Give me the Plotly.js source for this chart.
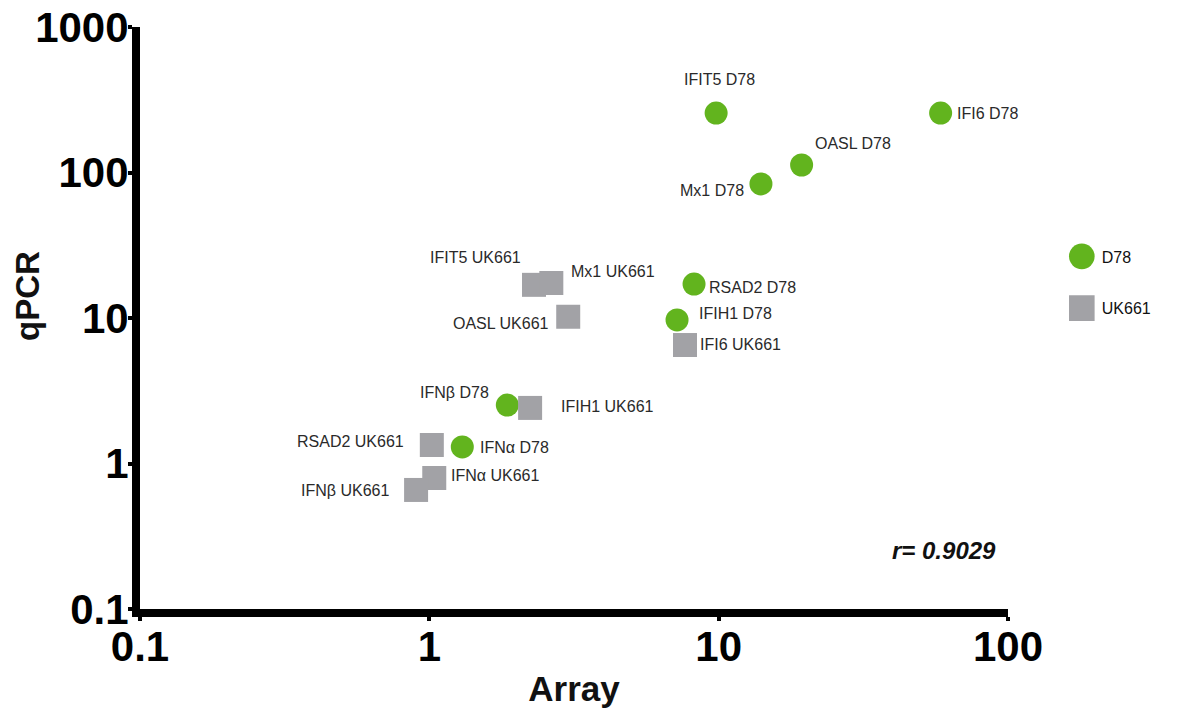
<!DOCTYPE html>
<html>
<head>
<meta charset="utf-8">
<script src="https://cdn.plot.ly/plotly-3.0.1.min.js"></script>
<style>
  html, body { margin: 0; padding: 0; background: #ffffff; }
  #chart { width: 1177px; height: 720px; }
</style>
</head>
<body>
<div id="chart"></div>
<script>
// Fold change of interferon-related genes: microarray vs qPCR
const d78Genes  = ["IFIT5", "IFI6", "OASL", "Mx1", "RSAD2", "IFIH1", "IFNβ", "IFNα"];
const d78Array  = [9.8, 58.5, 19.35, 14.0, 8.22, 7.18, 1.86, 1.30];
const d78Qpcr   = [256, 256, 112.6, 83.4, 17.1, 9.7, 2.52, 1.30];

const ukGenes   = ["IFIT5", "Mx1", "OASL", "IFI6", "IFIH1", "RSAD2", "IFNα", "IFNβ"];
const ukArray   = [2.30, 2.64, 3.02, 7.65, 2.23, 1.02, 1.04, 0.90];
const ukQpcr    = [16.9, 17.4, 10.2, 6.52, 2.41, 1.34, 0.795, 0.658];

const seriesNames = ["D78", "UK661"];
const tickVals  = [0.1, 1, 10, 100];
const yTickVals = [0.1, 1, 10, 100, 1000];
const tickText  = ["0.1", "1", "10", "100"];
const yTickText = ["0.1", "1", "10", "100", "1000"];
const xTitle    = "Array";
const yTitle    = "qPCR";
const corrText  = "r= 0.9029";

// label placement per point: [anchor, xshift px, yshift px]
const d78LabelPos = [
  ["center", 3, 34], ["left", 14, 0], ["left", 11, 22], ["right", -15, -7],
  ["left", 13, -3], ["left", 20, 6], ["right", -16, 13], ["left", 16, -1]
];
const ukLabelPos = [
  ["right", -11, 27], ["left", 18, 12], ["right", -17, -7], ["left", 13, 1],
  ["left", 29, 1], ["right", -26, 4], ["left", 15, 3], ["right", -25, -1]
];

const GREEN = "#62b41e";
const GREY  = "#a2a2a6";
const FONT  = "Liberation Sans, Arial, sans-serif";

const traces = [
  {
    x: d78Array, y: d78Qpcr, name: seriesNames[0], legendgroup: "a",
    mode: "markers", type: "scatter",
    marker: { symbol: "circle", size: 23, color: GREEN },
    hoverinfo: "skip"
  },
  {
    x: ukArray, y: ukQpcr, name: seriesNames[1], legendgroup: "b",
    mode: "markers", type: "scatter",
    marker: { symbol: "square", size: 24, color: GREY },
    hoverinfo: "skip"
  }
];

const annotations = [];
function addLabels(genes, xs, ys, tag, pos) {
  genes.forEach((g, i) => {
    const p = pos[i];
    annotations.push({
      x: Math.log10(xs[i]), y: Math.log10(ys[i]), xref: "x", yref: "y",
      text: g + " " + tag, showarrow: false,
      xanchor: p[0], yanchor: "middle", xshift: p[1], yshift: p[2],
      font: { family: FONT, size: 16, color: "#2a2a2a" }
    });
  });
}
addLabels(d78Genes, d78Array, d78Qpcr, seriesNames[0], d78LabelPos);
addLabels(ukGenes, ukArray, ukQpcr, seriesNames[1], ukLabelPos);

// correlation coefficient
annotations.push({
  x: 0.988, y: 0.1, xref: "paper", yref: "paper",
  xanchor: "right", yanchor: "middle", showarrow: false,
  text: "<b><i>" + corrText + "</i></b>",
  font: { family: FONT, size: 24, color: "#111111" }
});

// vertical axis title, placed a little above the axis midpoint
annotations.push({
  x: 0, y: 0.538, xref: "paper", yref: "paper",
  xanchor: "center", yanchor: "middle", xshift: -112, showarrow: false,
  textangle: -90, text: "<b>" + yTitle + "</b>",
  font: { family: FONT, size: 33, color: "#111111" }
});

const axisCommon = {
  type: "log",
  showline: true, linecolor: "#000000", linewidth: 8,
  ticks: "outside", ticklen: 4, tickwidth: 4, tickcolor: "#000000",
  showgrid: false, zeroline: false, mirror: false,
  tickfont: { family: FONT, size: 42, color: "#000000", weight: "bold" }
};

const layout = {
  width: 1177, height: 720,
  paper_bgcolor: "#ffffff", plot_bgcolor: "#ffffff",
  margin: { l: 140, r: 169, t: 27, b: 111 },
  showlegend: true,
  legend: {
    x: 1.062, y: 0.635, xanchor: "left", yanchor: "top",
    font: { family: FONT, size: 16, color: "#111111" },
    tracegroupgap: 28, itemsizing: "trace",
    bgcolor: "rgba(0,0,0,0)"
  },
  xaxis: Object.assign({}, axisCommon, {
    range: [-1, 2], tickvals: tickVals, ticktext: tickText,
    ticklabelstandoff: -10,
    title: { text: "<b>" + xTitle + "</b>", font: { family: FONT, size: 35, color: "#111111" }, standoff: 10 }
  }),
  yaxis: Object.assign({}, axisCommon, {
    range: [-1, 3], tickvals: yTickVals, ticktext: yTickText,
    ticklabelstandoff: -9
  }),
  annotations: annotations
};

Plotly.newPlot("chart", traces, layout, { staticPlot: true, displayModeBar: false }).then(gd => {
  // enlarge the legend keys to the size of the plotted markers
  gd.querySelectorAll(".legend .legendpoints path.scatterpts").forEach(p => {
    const t = p.getAttribute("transform") || "";
    p.setAttribute("transform", t + " scale(1.6)");
  });
});
</script>
</body>
</html>
